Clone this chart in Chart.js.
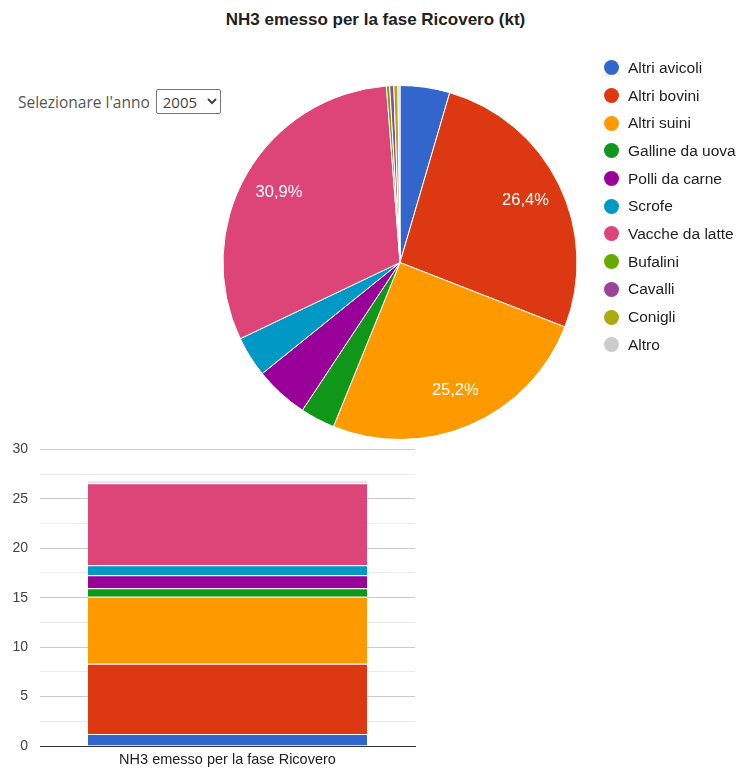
<!DOCTYPE html>
<html><head><meta charset="utf-8">
<script src="https://cdn.jsdelivr.net/npm/chart.js@4.4.0/dist/chart.umd.min.js"></script>
<style>
html,body{margin:0;padding:0;background:#fff;width:751px;height:768px;overflow:hidden;position:relative;font-family:Arial,"Liberation Sans",sans-serif;}
#title{position:absolute;left:0;width:751px;top:10px;text-align:center;font-weight:bold;font-size:17px;color:#222;}
#sel{position:absolute;left:18px;top:89px;font-family:"Open Sans",sans-serif;font-size:15.5px;color:#555;display:flex;align-items:center;}
#sel select{font-family:"Open Sans",sans-serif;font-size:15px;color:#444;border:1px solid #777;border-radius:2px;background:#fff;padding:0 2px;height:25px;width:65px;margin-left:6px;}
#pieWrap{position:absolute;left:0;top:0;width:751px;height:441px;}
#barWrap{position:absolute;left:0;top:429px;width:430px;height:339px;}
#legend{position:absolute;left:604px;top:54px;font-size:15.5px;color:#222;}
.li{height:27.7px;display:flex;align-items:center;white-space:nowrap;}
.dot{width:15px;height:15px;border-radius:50%;margin-right:9px;display:inline-block;}
</style></head><body>
<div id="title">NH3 emesso per la fase Ricovero (kt)</div>
<div id="sel">Selezionare l'anno <select><option>2005</option></select></div>
<div id="pieWrap"><canvas id="pie"></canvas></div>
<div id="legend"></div>
<div id="barWrap"><canvas id="bar"></canvas></div>
<script>
const categories = ["Altri avicoli","Altri bovini","Altri suini","Galline da uova","Polli da carne","Scrofe","Vacche da latte","Bufalini","Cavalli","Conigli","Altro"];
const values = [1.22, 7.10, 6.78, 0.85, 1.32, 1.00, 8.30, 0.08, 0.10, 0.10, 0.05];
const colors = ["#3366cc","#dc3912","#ff9900","#109618","#990099","#0099c6","#dd4477","#66aa00","#994499","#aaaa11","#cccccc"];
const barCategory = ["NH3 emesso per la fase Ricovero"];
const yTicks = [0,5,10,15,20,25,30];

// legend
const lg = document.getElementById('legend');
categories.forEach((c,i)=>{
  const d=document.createElement('div');d.className='li';
  d.innerHTML='<span class="dot" style="background:'+colors[i]+'"></span>'+c;
  lg.appendChild(d);
});

const total = values.reduce((a,b)=>a+b,0);
const pctPlugin = {
  id:'pct',
  afterDatasetsDraw(chart){
    const ctx=chart.ctx;
    const meta=chart.getDatasetMeta(0);
    ctx.save();
    ctx.fillStyle='#fff';ctx.font='16.5px Arial';ctx.textAlign='center';ctx.textBaseline='middle';
    meta.data.forEach((arc,i)=>{
      const p=values[i]/total;
      if(p<0.1) return;
      const mid=(arc.startAngle+arc.endAngle)/2;
      const r=arc.outerRadius*0.79;
      const x=arc.x+Math.cos(mid)*r, y=arc.y+Math.sin(mid)*r;
      ctx.fillText((p*100).toFixed(1).replace('.',',')+'%',x,y);
    });
    ctx.restore();
  }
};

new Chart(document.getElementById('pie'),{
  type:'pie',
  data:{labels:categories,datasets:[{data:values,backgroundColor:colors,borderColor:'#fff',borderWidth:1}]},
  options:{
    responsive:true,maintainAspectRatio:false,animation:false,
    layout:{padding:{left:222,right:173,top:85,bottom:1}},
    plugins:{legend:{display:false},tooltip:{enabled:false}}
  },
  plugins:[pctPlugin]
});

const barDatasets = categories.map((c,i)=>({
  label:c,data:[values[i]],backgroundColor:colors[i],borderColor:'#fff',borderWidth:{top:1,bottom:0,left:0,right:0},borderSkipped:false,
  barPercentage:0.744,categoryPercentage:1
}));
new Chart(document.getElementById('bar'),{
  type:'bar',
  data:{labels:barCategory,datasets:barDatasets},
  options:{
    responsive:true,maintainAspectRatio:false,animation:false,
    layout:{padding:{left:0,right:15,top:5,bottom:0}},
    plugins:{legend:{display:false},tooltip:{enabled:false}},
    scales:{
      x:{stacked:true,grid:{display:false,drawTicks:false},border:{color:'#333'},
        ticks:{color:'#222',font:{family:'Arial',size:14.5},padding:5},
        afterFit(s){s.height=22;}},
      y:{stacked:true,min:0,max:30,
        afterBuildTicks(s){const t=[];for(let v=0;v<=30;v+=2.5)t.push({value:v});s.ticks=t;},
        ticks:{color:'#444',font:{family:'Arial',size:14},padding:12,
          callback:(v)=>yTicks.includes(v)?String(v):''},
        grid:{color:(c)=>c.tick&&c.tick.value===0?'#333':(c.tick&&c.tick.value%5===0?'#cccccc':'#ebebeb'),drawTicks:false},
        border:{display:false},
        afterFit(s){s.width=40;}}
    }
  }
});
</script>
</body></html>
